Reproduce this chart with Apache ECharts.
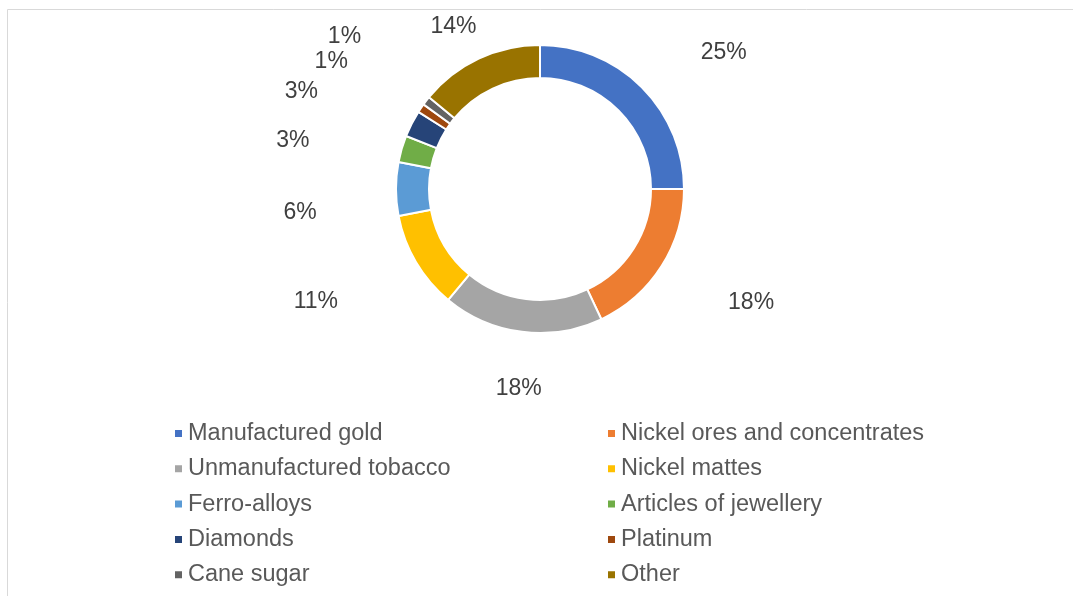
<!DOCTYPE html>
<html>
<head>
<meta charset="utf-8">
<script src="https://cdn.jsdelivr.net/npm/echarts@6/dist/echarts.min.js"></script>
<style>
html,body{margin:0;padding:0;background:#fff;}
#main{width:1073px;height:596px;}
</style>
</head>
<body>
<div id="main"></div>
<script>
// ---- data ----
var categories = ['Manufactured gold','Nickel ores and concentrates','Unmanufactured tobacco','Nickel mattes','Ferro-alloys','Articles of jewellery','Diamonds','Platinum','Cane sugar','Other'];
var shares = [25, 18, 18, 11, 6, 3, 3, 1, 1, 14];
var legendLeftCol = ['Manufactured gold','Unmanufactured tobacco','Ferro-alloys','Diamonds','Cane sugar'];
var legendRightCol = ['Nickel ores and concentrates','Nickel mattes','Articles of jewellery','Platinum','Other'];

// ---- style ----
var colors = ['#4472C4','#ED7D31','#A5A5A5','#FFC000','#5B9BD5','#70AD47','#264478','#9E480E','#636363','#997300'];
// label placement: ellipse around the ring plus small per-label nudges (pixels)
var labelEllipse = {dy: 7, a: 250, b: 195};
var labelNudge = [[7,-5],[0,2],[10,-1],[-9,6],[10,17],[-7,-1],[-16,-16],[-2,-25],[2,-40],[20,7]];

var chart = echarts.init(document.getElementById('main'));

var seriesData = categories.map(function(c, i){ return {name: c, value: shares[i]}; });

var legendText = {color:'#595959', fontSize:23.5, fontFamily:'Liberation Sans, Arial, sans-serif', lineHeight:26};

chart.setOption({
  animation: false,
  color: colors,
  graphic: [
    {type:'line', shape:{x1:7.5, y1:9.5, x2:1073, y2:9.5}, style:{stroke:'#d9d9d9', lineWidth:1}, silent:true},
    {type:'line', shape:{x1:7.5, y1:9.5, x2:7.5, y2:596}, style:{stroke:'#d9d9d9', lineWidth:1}, silent:true}
  ],
  legend: [
    {orient:'vertical', left:168, top:415.5, itemWidth:9, itemHeight:9, itemGap:9.3, icon:'rect',
     data: legendLeftCol, textStyle: legendText, selectedMode:false},
    {orient:'vertical', left:601, top:415.5, itemWidth:9, itemHeight:9, itemGap:9.3, icon:'rect',
     data: legendRightCol, textStyle: legendText, selectedMode:false}
  ],
  series: [{
    type:'pie',
    center:[540,189],
    radius:[111,144],
    startAngle:90,
    clockwise:true,
    avoidLabelOverlap:false,
    itemStyle:{borderColor:'#fff', borderWidth:2},
    label:{
      show:true, position:'outside',
      formatter: function(p){ return p.value + '%'; },
      color:'#404040', fontSize:23, fontFamily:'Liberation Sans, Arial, sans-serif'
    },
    labelLine:{show:false},
    emphasis:{disabled:true},
    labelLayout: function(p){
      try {
        var l = chart.getModel().getSeriesByIndex(0).getData().getItemLayout(p.dataIndex);
        var mid = (l.startAngle + l.endAngle) / 2;
        var n = labelNudge[p.dataIndex] || [0,0];
        return {
          x: l.cx + Math.cos(mid) * labelEllipse.a + n[0],
          y: l.cy + labelEllipse.dy + Math.sin(mid) * labelEllipse.b + n[1],
          align:'center', verticalAlign:'middle'
        };
      } catch(e) { return {}; }
    },
    data: seriesData
  }]
});
</script>
</body>
</html>
